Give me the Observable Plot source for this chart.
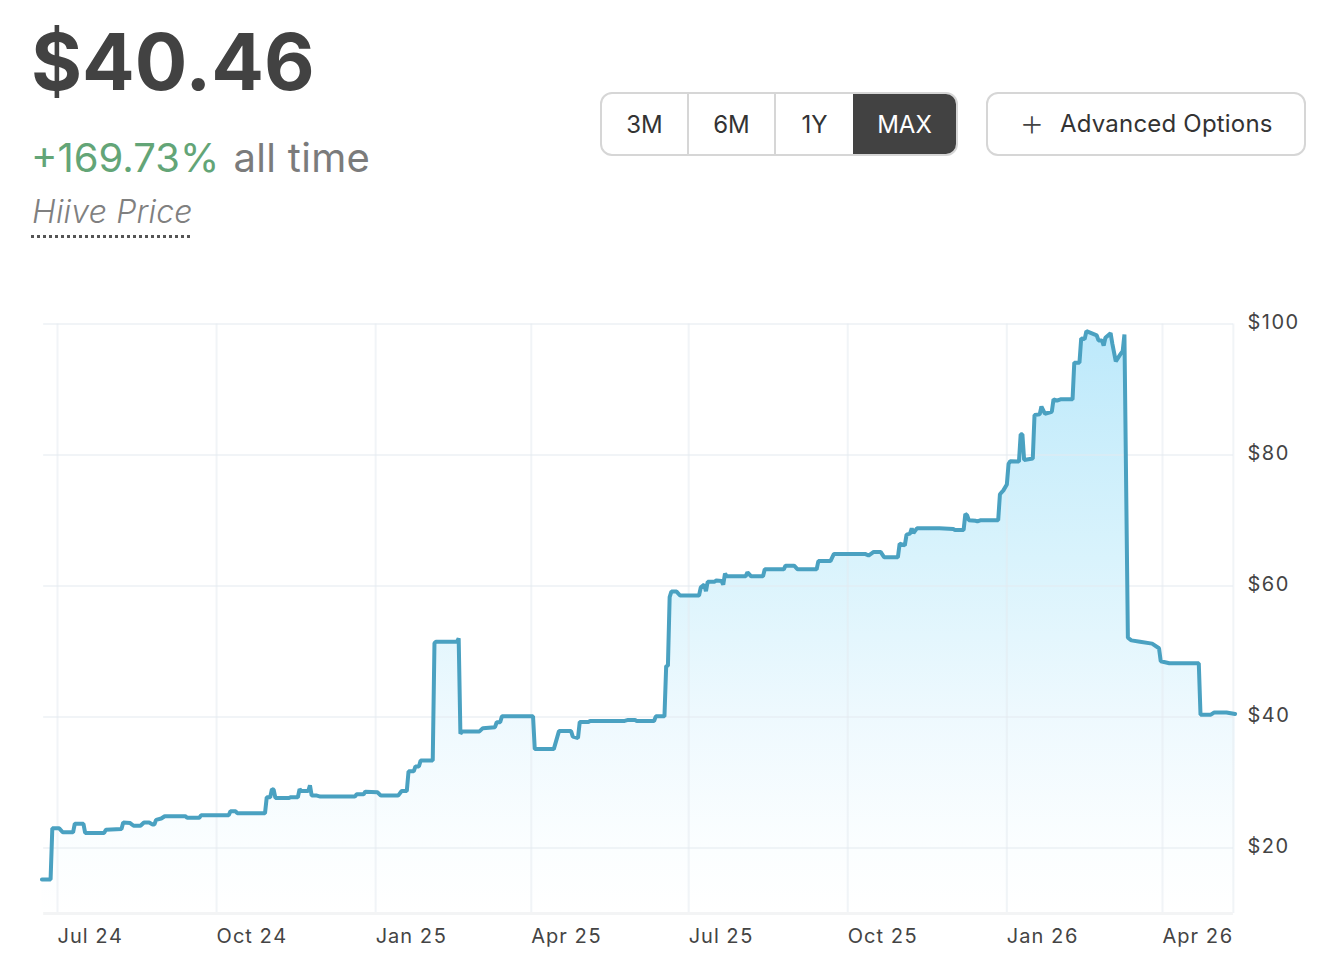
<!DOCTYPE html>
<html>
<head>
<meta charset="utf-8">
<script src="https://cdn.jsdelivr.net/npm/d3@7"></script>
<script src="https://cdn.jsdelivr.net/npm/@observablehq/plot@0.6"></script>
<style>
  html, body { margin: 0; padding: 0; background: #fff; font-family: Inter, sans-serif; }
  #page { position: relative; width: 1326px; height: 964px; overflow: hidden; }
  #head { position: relative; height: 290px; }
  #head > * { position: absolute; white-space: nowrap; }
  #price { left: 31px; top: 13px; font-size: 78px; line-height: 97px; font-weight: 700; color: #424242; }
  #change { left: 31px; top: 134px; font-size: 40px; line-height: 48px; font-weight: 400; color: #63a577; }
  #span { left: 233.5px; top: 134px; font-size: 40px; line-height: 48px; color: #7b7b7b; letter-spacing: 0.3px; }
  #name { left: 32px; top: 192px; font-size: 32px; line-height: 40px; font-style: italic; font-weight: 300; color: #808080; letter-spacing: 0.2px; }
  #dots { left: 31px; top: 235px; width: 159px; height: 0; border-top: 3px dotted #555; }
  #group { left: 600px; top: 92px; width: 354px; height: 60px; border: 2px solid #d6d6d6; border-radius: 12px; display: flex; overflow: hidden; background: #fff; }
  #group div { display: flex; align-items: center; justify-content: center; font-size: 24px; color: #333; box-sizing: border-box; }
  #group div + div { border-left: 2px solid #d6d6d6; }
  #group .on { background: #424242; color: #fff; border-left: none; }
  #adv { left: 986px; top: 92px; width: 316px; height: 60px; border: 2px solid #d6d6d6; border-radius: 12px; }
  #adv span { position: absolute; white-space: nowrap; }
  #plus { left: 31px; top: 5px; font-size: 40px; line-height: 46px; font-weight: 200; color: #444; }
  #adv-label { left: 72px; top: 15px; font-size: 24px; line-height: 30px; color: #333; letter-spacing: 0.2px; }
  .price-axis text { letter-spacing: 1.5px; }
</style>
</head>
<body>
<div id="page">
  <div id="head">
    <div id="price">$40.46</div>
    <div id="change">+169.73%</div>
    <div id="span">all time</div>
    <div id="name">Hiive Price</div>
    <div id="dots"></div>
    <div id="group">
      <div style="width:85px">3M</div>
      <div style="width:87px">6M</div>
      <div style="width:79px">1Y</div>
      <div class="on" style="width:103px">MAX</div>
    </div>
    <div id="adv"><span id="plus">+</span><span id="adv-label">Advanced Options</span></div>
  </div>
  <div id="chart"></div>
</div>
<script>
const dates = [
"2024-06-22","2024-06-27","2024-06-28","2024-07-02","2024-07-04","2024-07-10","2024-07-11","2024-07-16","2024-07-17","2024-07-28",
"2024-07-29","2024-08-07","2024-08-08","2024-08-12","2024-08-14","2024-08-18","2024-08-20","2024-08-23","2024-08-25","2024-08-26",
"2024-08-27","2024-08-30","2024-09-01","2024-09-13","2024-09-14","2024-09-21","2024-09-22","2024-10-08","2024-10-09","2024-10-12",
"2024-10-13","2024-10-29","2024-10-30","2024-11-01","2024-11-02","2024-11-03","2024-11-04","2024-11-12","2024-11-13","2024-11-17",
"2024-11-18","2024-11-19","2024-11-23","2024-11-24","2024-11-25","2024-11-28","2024-11-30","2024-12-20","2024-12-21","2024-12-25",
"2024-12-26","2025-01-02","2025-01-04","2025-01-14","2025-01-16","2025-01-19","2025-01-20","2025-01-23","2025-01-24","2025-01-26",
"2025-01-27","2025-02-03","2025-02-04","2025-02-05","2025-02-17","2025-02-18","2025-02-19","2025-02-20","2025-03-02","2025-03-04",
"2025-03-11","2025-03-12","2025-03-14","2025-03-15","2025-04-02","2025-04-03","2025-04-14","2025-04-17","2025-04-24","2025-04-25",
"2025-04-28","2025-04-29","2025-05-04","2025-05-05","2025-05-25","2025-05-27","2025-05-31","2025-06-01","2025-06-11","2025-06-12",
"2025-06-17","2025-06-18","2025-06-19","2025-06-20","2025-06-21","2025-06-24","2025-06-26","2025-07-07","2025-07-08","2025-07-10",
"2025-07-11","2025-07-12","2025-07-16","2025-07-17","2025-07-20","2025-07-21","2025-07-22","2025-07-23","2025-08-03","2025-08-04",
"2025-08-06","2025-08-13","2025-08-14","2025-08-25","2025-08-26","2025-08-31","2025-09-02","2025-09-13","2025-09-14","2025-09-21",
"2025-09-23","2025-10-11","2025-10-13","2025-10-16","2025-10-20","2025-10-22","2025-10-30","2025-10-31","2025-11-03","2025-11-04",
"2025-11-06","2025-11-07","2025-11-08","2025-11-10","2025-11-23","2025-12-01","2025-12-02","2025-12-07","2025-12-08","2025-12-09",
"2025-12-10","2025-12-14","2025-12-15","2025-12-17","2025-12-27","2025-12-28","2025-12-30","2026-01-01","2026-01-02","2026-01-03",
"2026-01-08","2026-01-09","2026-01-10","2026-01-11","2026-01-16","2026-01-17","2026-01-20","2026-01-21","2026-01-23","2026-01-27",
"2026-01-28","2026-01-30","2026-02-01","2026-02-08","2026-02-09","2026-02-12","2026-02-13","2026-02-15","2026-02-16","2026-02-22",
"2026-02-23","2026-02-25","2026-02-26","2026-02-27","2026-03-02","2026-03-03","2026-03-05","2026-03-08","2026-03-09","2026-03-10",
"2026-03-12","2026-03-14","2026-03-19","2026-03-26","2026-03-30","2026-03-31","2026-04-05","2026-04-22","2026-04-23","2026-04-29",
"2026-05-01","2026-05-08","2026-05-13"
];
const prices = [
15.2,15.2,23.0,23.0,22.4,22.4,23.7,23.7,22.3,22.3,
22.8,22.9,23.9,23.8,23.4,23.4,23.9,23.9,23.6,23.6,
24.3,24.5,24.85,24.85,24.6,24.6,25.0,25.0,25.6,25.6,
25.3,25.3,27.75,27.75,29.0,28.9,27.65,27.65,27.75,27.75,
29.0,28.7,28.7,29.55,28.0,28.0,27.85,27.85,28.2,28.2,
28.6,28.5,28.0,28.0,28.7,28.7,31.7,31.7,32.45,32.45,
33.35,33.35,51.3,51.5,51.5,52.0,37.45,37.8,37.8,38.3,
38.45,39.2,39.2,40.1,40.1,35.1,35.1,37.85,37.85,37.0,
36.8,39.25,39.25,39.4,39.4,39.55,39.55,39.4,39.4,40.1,
40.1,47.8,47.8,58.3,59.15,59.15,58.55,58.55,59.8,60.2,
59.2,60.65,60.65,60.85,60.75,60.2,61.9,61.5,61.5,62.1,
61.5,61.5,62.55,62.55,63.1,63.1,62.55,62.55,63.8,63.8,
64.9,64.9,64.65,65.2,65.2,64.4,64.4,66.45,66.2,67.85,
68.0,68.8,68.1,68.8,68.8,68.7,68.55,68.55,71.0,70.8,
70.05,69.95,69.85,70.05,70.05,74.0,74.6,75.5,78.65,79.05,
79.0,83.15,83.15,79.25,79.45,86.1,86.2,87.4,86.3,86.6,
88.5,88.3,88.5,88.5,94.1,94.1,97.8,97.7,98.9,98.25,
97.5,97.5,96.7,97.9,98.6,97.0,94.3,95.5,95.85,98.4,
52.1,51.7,51.5,51.2,50.5,48.5,48.2,48.2,40.35,40.35,
40.7,40.7,40.46
];
const xTickDates = ["2024-07-01","2024-10-01","2025-01-01","2025-04-01","2025-07-01","2025-10-01","2026-01-01","2026-04-01"];
const yTickValues = [20, 40, 60, 80, 100];
const lineColor = "#4aa1c1";
const gridColor = "rgba(228,234,240,0.5)";

const series = dates.map((d, i) => ({date: new Date(d), price: prices[i]}));
const xTicks = xTickDates.map(d => new Date(d));
const gridStart = new Date("2024-06-23");
const gridEnd = new Date("2026-05-12");

const gradient = () => {
  const defs = d3.create("svg:defs");
  const g = defs.append("linearGradient").attr("id", "fade").attr("x1", 0).attr("x2", 0).attr("y1", 0).attr("y2", 1);
  [["0%", "#bde9fb"], ["39%", "#d9f3fc"], ["66%", "#eef9fe"], ["89%", "#fbfeff"], ["100%", "#ffffff"]]
    .forEach(([offset, color]) => g.append("stop").attr("offset", offset).attr("stop-color", color));
  return defs.node();
};

const chart = Plot.plot({
  width: 1326,
  height: 674,
  marginTop: 33.5,
  marginBottom: 51,
  marginLeft: 41.44,
  marginRight: 91.4,
  style: {fontFamily: "Inter, sans-serif", fontSize: "20px", letterSpacing: "1px", color: "#444", background: "transparent"},
  x: {type: "utc", domain: [new Date("2024-06-22"), new Date("2026-05-13")]},
  y: {domain: [10, 100]},
  marks: [
    gradient,
    Plot.areaY(series, {x: "date", y1: 10, y2: "price", fill: "url(#fade)"}),
    Plot.ruleX(xTicks, {y1: 10, y2: 100, stroke: gridColor, strokeWidth: 2}),
    Plot.ruleX([gridEnd], {y1: 10, y2: 100, stroke: gridColor, strokeWidth: 2}),
    Plot.ruleY(yTickValues, {x1: gridStart, x2: gridEnd, stroke: gridColor, strokeWidth: 2}),
    Plot.ruleY([10], {x1: gridStart, x2: gridEnd, stroke: "#f3f4f5", strokeWidth: 3}),
    Plot.lineY(series, {x: "date", y: "price", stroke: lineColor, strokeWidth: 4, strokeLinejoin: "miter"}),
    Plot.axisX(xTicks, {tickSize: 0, tickPadding: 15, textAnchor: "start", dx: 0, tickFormat: d3.utcFormat("%b %y"), label: null, fill: "#444"}),
    Plot.axisY(yTickValues, {anchor: "right", tickSize: 0, tickPadding: 12.4, dy: -1.5, tickFormat: d => "$" + d, label: null, fill: "#444", fontVariant: "normal", className: "price-axis"})
  ]
});
document.getElementById("chart").appendChild(chart);
</script>
</body>
</html>
